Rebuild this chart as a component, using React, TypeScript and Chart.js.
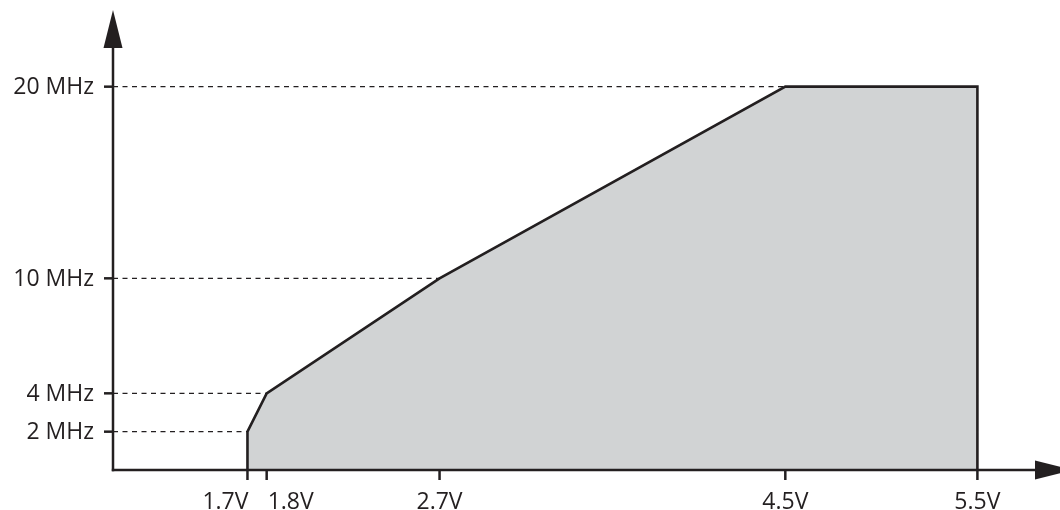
import React, { useEffect, useRef } from "react";
import { Chart, registerables } from "chart.js";

Chart.register(...registerables);

// ---- data ----
const areaVoltages = [1.7, 1.7, 1.8, 2.7, 4.5, 5.5, 5.5];
const areaFrequencies = [0, 2, 4, 10, 20, 20, 0];

const xTickValues = [1.7, 1.8, 2.7, 4.5, 5.5];
const xTickLabels = ["1.7V", "1.8V", "2.7V", "4.5V", "5.5V"];

const yTickValues = [2, 4, 10, 20];
const yTickLabels = ["2 MHz", "4 MHz", "10 MHz", "20 MHz"];
const guideEndVoltages = [1.7, 1.8, 2.7, 4.5];

const xMin = 1.0;
const xMax = 5.93;
const yMin = 0;
const yMax = 24;

// ---- styles ----
const INK = "#231f20";
const FILL = "#d1d3d4";
const FONT = "23px 'Open Sans', 'DejaVu Sans', sans-serif";
const xLabelAlign: CanvasTextAlign[] = ["right", "left", "center", "center", "center"];

const axesPlugin = {
  id: "axesPlugin",
  afterDraw(chart: any) {
    const ctx = chart.ctx as CanvasRenderingContext2D;
    const xs = chart.scales.x;
    const ys = chart.scales.y;
    const x0 = xs.getPixelForValue(xMin);
    const y0 = ys.getPixelForValue(yMin);
    const yTop = ys.getPixelForValue(yMax);
    const xRight = chart.chartArea.right;
    const arrowLen = 38;
    const arrowHalf = 9.5;

    ctx.save();
    ctx.strokeStyle = INK;
    ctx.fillStyle = INK;
    ctx.lineWidth = 2.5;
    ctx.lineCap = "butt";

    // y axis
    ctx.beginPath();
    ctx.moveTo(x0, y0 + 1.2);
    ctx.lineTo(x0, yTop + arrowLen - 1);
    ctx.stroke();
    // x axis
    ctx.beginPath();
    ctx.moveTo(x0 - 1.2, y0);
    ctx.lineTo(xRight - 24, y0);
    ctx.stroke();

    // arrows
    ctx.beginPath();
    ctx.moveTo(x0, yTop);
    ctx.lineTo(x0 - arrowHalf, yTop + arrowLen);
    ctx.lineTo(x0 + arrowHalf, yTop + arrowLen);
    ctx.closePath();
    ctx.fill();

    const tipX = xRight - 25 + arrowLen;
    ctx.beginPath();
    ctx.moveTo(tipX, y0);
    ctx.lineTo(tipX - arrowLen, y0 - arrowHalf);
    ctx.lineTo(tipX - arrowLen, y0 + arrowHalf);
    ctx.closePath();
    ctx.fill();

    // y ticks + labels
    ctx.font = FONT;
    ctx.textAlign = "right";
    ctx.textBaseline = "middle";
    yTickValues.forEach((v, i) => {
      const py = ys.getPixelForValue(v);
      ctx.beginPath();
      ctx.moveTo(x0 - 9, py);
      ctx.lineTo(x0, py);
      ctx.stroke();
      ctx.fillText(yTickLabels[i], x0 - 19, py + 1);
    });

    // x ticks + labels
    ctx.textBaseline = "alphabetic";
    xTickValues.forEach((v, i) => {
      const px = xs.getPixelForValue(v);
      ctx.beginPath();
      ctx.moveTo(px, y0);
      ctx.lineTo(px, y0 + 10);
      ctx.stroke();
      const align = xLabelAlign[i];
      ctx.textAlign = align;
      const dx = align === "right" ? 1 : align === "left" ? 1 : 0;
      ctx.fillText(xTickLabels[i], px + dx, y0 + 39);
    });
    ctx.restore();
  },
};

export default function App() {
  const ref = useRef<HTMLCanvasElement>(null);

  useEffect(() => {
    document.body.style.margin = "0";
    const canvas = ref.current;
    if (!canvas) return;

    const guideSets = yTickValues.map((f, i) => ({
      type: "line" as const,
      data: [
        { x: xMin, y: f },
        { x: guideEndVoltages[i], y: f },
      ],
      borderColor: INK,
      borderWidth: 1.1,
      borderDash: [5, 4.5],
      pointRadius: 0,
      fill: false,
      order: 2,
    }));

    const chart = new Chart(canvas, {
      type: "line",
      data: {
        datasets: [
          {
            data: areaVoltages.map((v, i) => ({ x: v, y: areaFrequencies[i] })),
            borderColor: INK,
            borderWidth: 2.6,
            backgroundColor: FILL,
            fill: "origin",
            pointRadius: 0,
            tension: 0,
            borderJoinStyle: "miter",
            order: 1,
          } as any,
          ...guideSets,
        ],
      },
      options: {
        responsive: false,
        animation: false,
        layout: { padding: { left: 113, top: 10, right: 0, bottom: 40 } },
        plugins: {
          legend: { display: false },
          tooltip: { enabled: false },
        },
        scales: {
          x: { type: "linear", display: false, min: xMin, max: xMax },
          y: { type: "linear", display: false, min: yMin, max: yMax },
        },
      },
      plugins: [axesPlugin],
    });
    return () => chart.destroy();
  }, []);

  return (
    <div style={{ width: 1060, height: 510, background: "#fff" }}>
      <canvas ref={ref} width={1060} height={510} />
    </div>
  );
}
